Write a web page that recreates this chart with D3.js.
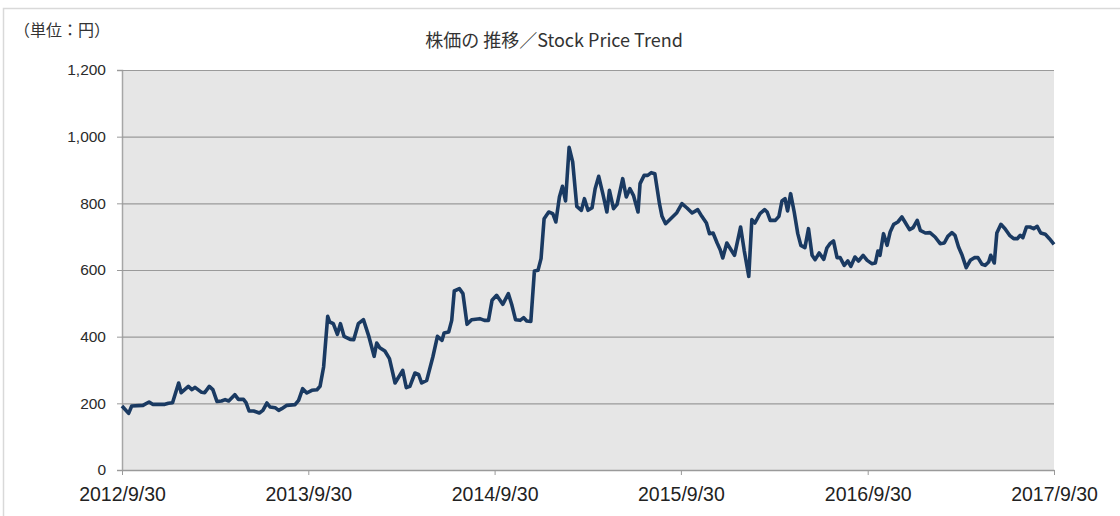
<!DOCTYPE html>
<html>
<head>
<meta charset="utf-8">
<script src="https://cdn.jsdelivr.net/npm/d3@7"></script>
<style>
  body { margin: 0; background: #fff; }
  svg { display: block; }
</style>
</head>
<body>
<div id="chart"></div>
<script>
// weeks after 2012/9/30, and closing price (yen)
const weekOffsets = [
  0.0, 1.8, 2.7, 5.9, 7.6, 8.6, 10.6, 12.0, 13.0, 14.2, 15.8, 16.5, 18.6, 19.5, 20.4, 22.3, 23.2, 24.4, 25.4, 26.5,
  27.9, 28.8, 29.8, 31.6, 32.6, 34.0, 34.7, 35.6, 36.8, 38.4, 39.4, 40.5, 41.4, 42.8, 43.8, 44.7, 46.1, 48.4, 49.4, 50.6,
  51.7, 53.1, 54.5, 55.4, 56.4, 57.5, 58.2, 59.2, 60.3, 61.2, 62.2, 63.8, 64.8, 66.2, 67.6, 69.0, 70.6, 71.3, 72.2, 73.6,
  74.8, 76.4, 78.6, 79.5, 80.6, 82.0, 83.0, 83.9, 85.3, 87.0, 88.3, 89.5, 90.2, 91.4, 92.3, 93.0, 94.4, 95.4, 96.5, 97.9,
  100.2, 101.4, 102.6, 103.5, 104.9, 106.5, 108.2, 109.1, 110.2, 111.4, 112.4, 113.3, 114.4, 115.4, 116.4, 117.3, 118.2, 119.4, 120.5, 121.4,
  122.4, 123.3, 124.2, 125.2, 126.2, 127.3, 128.5, 129.4, 130.4, 131.5, 132.4, 133.4, 134.5, 135.7, 136.4, 137.6, 138.5, 140.1, 141.1, 142.2,
  143.2, 144.4, 145.0, 146.2, 147.2, 148.1, 149.2, 150.4, 151.1, 152.2, 153.9, 155.3, 156.7, 158.1, 159.5, 161.1, 162.3, 163.5, 164.4, 165.4,
  166.5, 167.4, 168.2, 169.3, 170.2, 171.4, 173.2, 174.2, 175.4, 176.3, 177.2, 178.6, 179.8, 180.5, 181.4, 182.8, 183.8, 184.7, 185.6, 186.3,
  187.2, 188.2, 189.1, 190.0, 191.2, 192.2, 193.1, 194.0, 195.2, 196.4, 197.3, 198.2, 199.2, 200.1, 201.0, 202.2, 203.1, 204.0, 205.2, 206.2,
  207.4, 208.5, 209.9, 210.8, 211.5, 212.2, 213.2, 214.1, 215.0, 216.0, 217.1, 218.3, 219.2, 220.4, 221.4, 222.5, 223.4, 224.8, 226.2, 227.6,
  229.0, 230.2, 231.1, 232.3, 233.2, 234.2, 235.1, 236.3, 237.4, 238.6, 239.5, 240.7, 241.6, 242.6, 243.2, 244.2, 244.9, 246.0, 247.2, 248.4,
  249.5, 250.5, 251.4, 252.2, 253.1, 254.2, 255.2, 256.2, 257.2, 258.4, 259.6, 260.9
];
const prices = [
  192, 170, 192, 194, 204, 197, 197, 197, 200, 202, 261, 232, 251, 241, 248, 233, 232, 251, 241, 206,
  207, 211, 207, 226, 212, 212, 202, 177, 177, 171, 179, 201, 189, 187, 179, 184, 194, 196, 209, 244,
  231, 239, 241, 251, 309, 461, 444, 439, 407, 439, 401, 392, 391, 439, 451, 404, 341, 381, 367, 357,
  334, 261, 299, 247, 251, 291, 287, 261, 269, 339, 401, 389, 411, 414, 449, 537, 544, 529, 437, 451,
  454, 449, 449, 509, 524, 497, 529, 494, 451, 449, 457, 447, 446, 597, 599, 634, 754, 774, 769, 744,
  819, 851, 807, 968, 924, 791, 779, 814, 779, 787, 844, 881, 829, 774, 839, 784, 797, 874, 819, 844,
  824, 774, 859, 884, 884, 892, 889, 799, 761, 739, 757, 772, 799, 786, 771, 781, 761, 741, 709, 711,
  681, 661, 636, 681, 666, 644, 729, 659, 581, 751, 741, 769, 781, 774, 749, 749, 761, 807, 814, 777,
  829, 774, 709, 674, 667, 724, 644, 631, 651, 632, 666, 679, 687, 637, 637, 614, 627, 611, 639, 627,
  644, 629, 619, 621, 657, 644, 709, 674, 714, 737, 744, 759, 744, 721, 727, 749, 719, 711, 712, 699,
  679, 681, 701, 712, 704, 669, 644, 607, 629, 637, 637, 617, 614, 624, 644, 621, 711, 737, 724, 704,
  694, 694, 704, 697, 729, 729, 724, 731, 711, 707, 694, 677
];
const xTickDates = ["2012-09-30", "2013-09-30", "2014-09-30", "2015-09-30", "2016-09-30", "2017-09-30"];
const yTicks = [0, 200, 400, 600, 800, 1000, 1200];

const W = 1120, H = 516;
const m = {left: 122, right: 66, top: 70, bottom: 46};
const parse = d3.timeParse("%Y-%m-%d");

const data = weekOffsets.map(function(w, i) {
  return {date: new Date(2012, 8, 30 + Math.round(w * 7)), value: prices[i]};
});

const svg = d3.select("#chart").append("svg").attr("width", W).attr("height", H);

// outer frame
svg.append("rect")
    .attr("x", 3.5).attr("y", 8.5)
    .attr("width", W + 10).attr("height", H + 10)
    .attr("fill", "none").attr("stroke", "#d9d9d9").attr("stroke-width", 1.5);

const x = d3.scaleTime()
    .domain([parse(xTickDates[0]), parse(xTickDates[xTickDates.length - 1])])
    .range([m.left, W - m.right]);
const y = d3.scaleLinear().domain([0, 1200]).range([H - m.bottom, m.top]);

svg.append("rect")
    .attr("x", m.left).attr("y", m.top)
    .attr("width", W - m.right - m.left).attr("height", H - m.bottom - m.top)
    .attr("fill", "#e6e6e6");

// y axis with gridlines
const yAxis = svg.append("g")
    .attr("transform", "translate(" + m.left + ",0)")
    .call(d3.axisLeft(y).tickValues(yTicks).tickFormat(d3.format(",")).tickSize(5).tickPadding(11));
yAxis.select(".domain").attr("stroke", "#a6a6a6").attr("stroke-width", 1.5);
yAxis.selectAll(".tick line").attr("stroke", "#9a9a9a");
yAxis.selectAll(".tick").filter(function(d) { return d > 0; }).append("line")
    .attr("x1", 0).attr("x2", W - m.right - m.left)
    .attr("stroke", "#9a9a9a").attr("stroke-width", 1.2);
yAxis.selectAll("text")
    .attr("font-family", "'Liberation Sans', Arial, sans-serif")
    .attr("font-size", 15.5).attr("fill", "#2b2b2b");

// x axis
const xAxis = svg.append("g")
    .attr("transform", "translate(0," + (H - m.bottom) + ")")
    .call(d3.axisBottom(x).tickValues(xTickDates.map(parse))
      .tickFormat(d3.timeFormat("%Y/%-m/%-d")).tickSize(5).tickSizeOuter(0).tickPadding(12));
xAxis.select(".domain").attr("stroke", "#9a9a9a").attr("stroke-width", 1.5);
xAxis.selectAll(".tick line").attr("stroke", "#9a9a9a");
xAxis.selectAll("text")
    .attr("font-family", "'Liberation Sans', Arial, sans-serif")
    .attr("font-size", 19.5).attr("fill", "#222");

// price line
const line = d3.line()
    .x(function(d) { return x(d.date); })
    .y(function(d) { return y(d.value); });

svg.append("path")
    .datum(data)
    .attr("d", line)
    .attr("fill", "none")
    .attr("stroke", "#1a3a62")
    .attr("stroke-width", 3.6)
    .attr("stroke-linejoin", "round");

// titles
svg.append("text")
    .attr("x", 554).attr("y", 47)
    .attr("text-anchor", "middle")
    .attr("font-family", "'Noto Sans CJK JP', 'Liberation Sans', sans-serif")
    .attr("font-size", 18).attr("fill", "#333")
    .text("株価の 推移／Stock Price Trend");

svg.append("text")
    .attr("x", 14).attr("y", 36)
    .attr("font-family", "'Noto Sans CJK JP', sans-serif")
    .attr("font-size", 16).attr("fill", "#333")
    .text("（単位：円）");
</script>
</body>
</html>
